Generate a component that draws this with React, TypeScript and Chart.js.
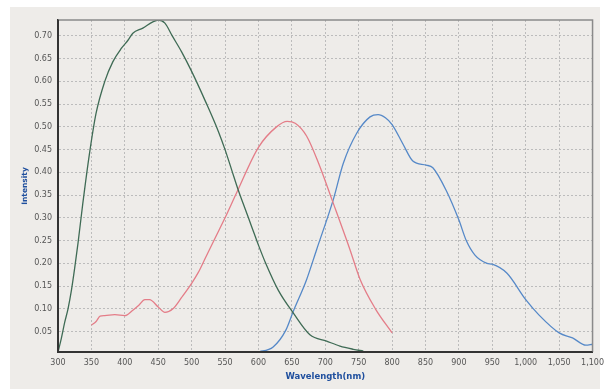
import React, { useEffect, useRef } from "react";
import { Chart, registerables } from "chart.js";

Chart.register(...registerables);

const xTicks = [300, 350, 400, 450, 500, 550, 600, 650, 700, 750, 800, 850, 900, 950, 1000, 1050, 1100];
const yTicks = [0.05, 0.1, 0.15, 0.2, 0.25, 0.3, 0.35, 0.4, 0.45, 0.5, 0.55, 0.6, 0.65, 0.7];

const greenX = [300, 305, 310, 315, 320, 325, 330, 337, 347, 357, 370, 382, 395, 405, 412, 427, 442, 450, 460, 471, 485, 500, 521, 540, 550, 560, 570, 580, 590, 600, 610, 630, 652, 677, 702, 722, 742, 757];
const greenY = [0.005, 0.035, 0.07, 0.1, 0.14, 0.19, 0.245, 0.33, 0.44, 0.53, 0.6, 0.643, 0.673, 0.691, 0.706, 0.717, 0.731, 0.735, 0.728, 0.7, 0.665, 0.622, 0.555, 0.49, 0.45, 0.405, 0.36, 0.32, 0.28, 0.24, 0.203, 0.14, 0.091, 0.043, 0.029, 0.018, 0.011, 0.007];

const redX = [350, 357, 363, 370, 385, 400, 412, 421, 430, 437, 450, 460, 472, 485, 500, 510, 520, 535, 550, 567, 600, 627, 643, 655, 672, 690, 710, 737, 752, 775, 800];
const redY = [0.064, 0.072, 0.084, 0.085, 0.087, 0.085, 0.097, 0.108, 0.12, 0.12, 0.104, 0.092, 0.1, 0.125, 0.156, 0.18, 0.21, 0.255, 0.3, 0.354, 0.455, 0.5, 0.512, 0.508, 0.48, 0.42, 0.34, 0.23, 0.165, 0.1, 0.047];

const blueX = [595, 602, 622, 641, 652, 672, 687, 712, 727, 747, 767, 779, 790, 800, 816, 831, 851, 861, 881, 900, 911, 924, 942, 950, 972, 1000, 1020, 1050, 1070, 1090, 1100];
const blueY = [0.005, 0.006, 0.016, 0.053, 0.094, 0.164, 0.23, 0.34, 0.42, 0.486, 0.522, 0.527, 0.52, 0.505, 0.463, 0.425, 0.416, 0.41, 0.36, 0.295, 0.25, 0.218, 0.2, 0.198, 0.178, 0.12, 0.086, 0.047, 0.036, 0.02, 0.022];

const toPts = (xs: number[], ys: number[]) => xs.map((x, i) => ({ x, y: ys[i] }));

const bgPlugin = {
  id: "bgPlugin",
  beforeDraw(chart: any) {
    const { ctx } = chart;
    ctx.save();
    ctx.fillStyle = "#ffffff";
    ctx.fillRect(0, 0, chart.width, chart.height);
    ctx.fillStyle = "#eeece9";
    ctx.fillRect(10, 7, 590, 382);
    ctx.restore();
  },
  afterDraw(chart: any) {
    const { ctx, chartArea: a } = chart;
    ctx.save();
    ctx.strokeStyle = "#8a8a8a";
    ctx.lineWidth = 1.5;
    ctx.beginPath();
    ctx.moveTo(a.left, a.top);
    ctx.lineTo(a.right, a.top);
    ctx.lineTo(a.right, a.bottom);
    ctx.stroke();
    ctx.strokeStyle = "#333333";
    ctx.lineWidth = 2;
    ctx.beginPath();
    ctx.moveTo(a.left, a.top);
    ctx.lineTo(a.left, a.bottom);
    ctx.lineTo(a.right, a.bottom);
    ctx.stroke();
    ctx.restore();
  },
};

export default function App() {
  const ref = useRef<HTMLCanvasElement | null>(null);
  useEffect(() => {
    if (!ref.current) return;
    const common = {
      pointRadius: 0,
      borderWidth: 1.3,
      fill: false,
      cubicInterpolationMode: "monotone" as const,
    };
    const chart = new Chart(ref.current, {
      type: "line",
      data: {
        datasets: [
          { ...common, label: "Green", data: toPts(greenX, greenY), borderColor: "#3f6b55" },
          { ...common, label: "Red", data: toPts(redX, redY), borderColor: "#e47d88" },
          { ...common, label: "Blue", data: toPts(blueX, blueY), borderColor: "#5689c8" },
        ],
      },
      options: {
        responsive: false,
        animation: false,
        layout: { padding: { left: 0, top: 20, right: 17, bottom: 0 } },
        plugins: { legend: { display: false }, tooltip: { enabled: false } },
        scales: {
          x: {
            type: "linear",
            min: 300,
            max: 1100,
            afterBuildTicks: (s: any) => {
              s.ticks = xTicks.map((v) => ({ value: v }));
            },
            afterFit: (s: any) => {
              s.height = 37;
            },
            grid: { color: "#bcbcbc", lineWidth: 1, drawTicks: false },
            border: { display: true, color: "#333333", width: 2, dash: [2, 2] },
            ticks: {
              padding: 6,
              color: "#555555",
              font: { family: "DejaVu Sans", size: 8 },
              maxRotation: 0,
              autoSkip: false,
              callback: (v: any) => Number(v).toLocaleString("en-US"),
            },
            title: {
              display: true,
              text: "Wavelength(nm)",
              color: "#1f4f9e",
              font: { family: "DejaVu Sans", size: 8.5, weight: "bold" },
              padding: { top: 0, bottom: 7 },
            },
          },
          y: {
            type: "linear",
            min: 0.005,
            max: 0.735,
            afterBuildTicks: (s: any) => {
              s.ticks = yTicks.map((v) => ({ value: v }));
            },
            afterFit: (s: any) => {
              s.width = 58;
            },
            grid: { color: "#bcbcbc", lineWidth: 1, drawTicks: false },
            border: { display: true, color: "#333333", width: 2, dash: [2, 2] },
            ticks: {
              padding: 6,
              color: "#555555",
              font: { family: "DejaVu Sans", size: 8 },
              autoSkip: false,
              callback: (v: any) => Number(v).toFixed(2),
            },
            title: {
              display: true,
              text: "Intensity",
              color: "#1f4f9e",
              font: { family: "DejaVu Sans", size: 7.5, weight: "bold" },
              padding: { top: 21, bottom: 0 },
            },
          },
        },
      },
      plugins: [bgPlugin],
    });
    return () => chart.destroy();
  }, []);
  return (
    <div style={{ position: "absolute", left: 0, top: 0, width: 610, height: 389 }}>
      <canvas ref={ref} width={610} height={389} style={{ display: "block" }} />
    </div>
  );
}
